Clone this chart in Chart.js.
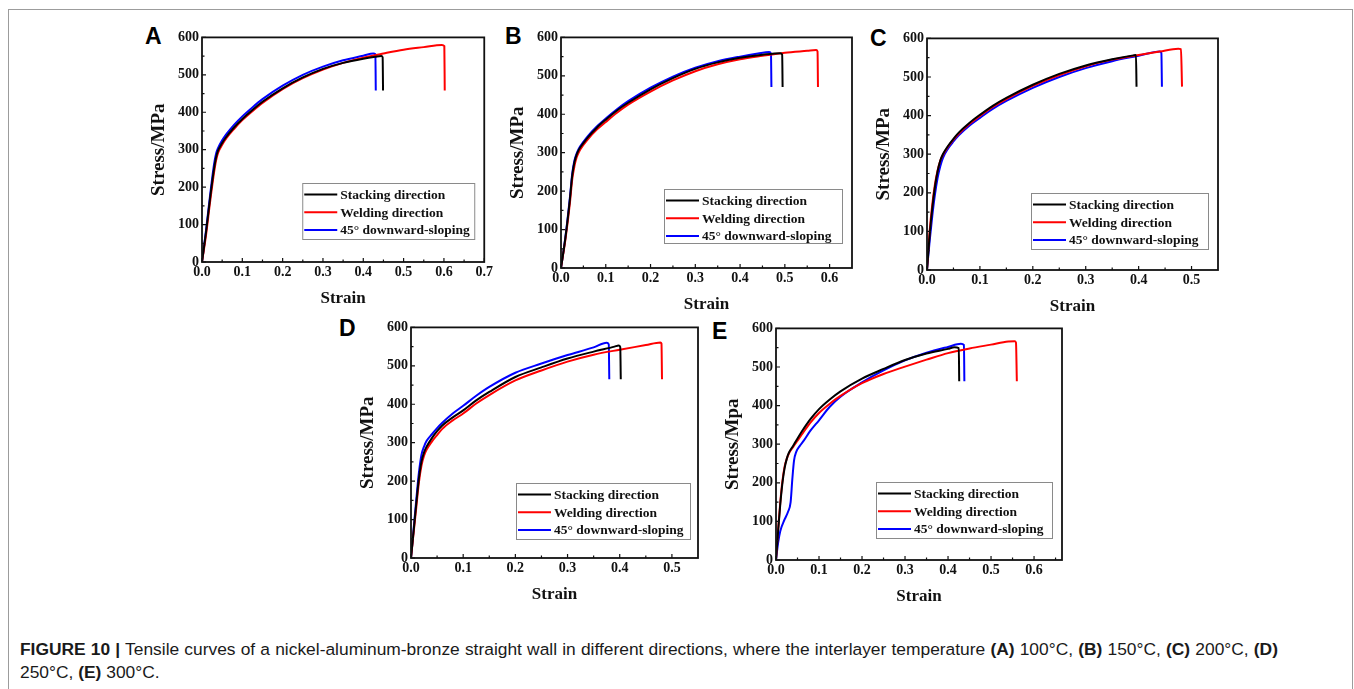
<!DOCTYPE html>
<html>
<head>
<meta charset="utf-8">
<title>Tensile curves</title>
<script src="https://cdn.jsdelivr.net/npm/chart.js@4.4.1/dist/chart.umd.min.js"></script>
<style>
    body {
        margin: 0;
        width: 1354px;
        height: 689px;
        overflow: hidden;
        position: relative;
        background: #fff;
        font-family: "Liberation Sans", Arial, sans-serif;
    }
    #frame {
        position: absolute;
        left: 8px;
        top: 9px;
        width: 1343px;
        height: 700px;
        border: 1px solid #9c9c9c;
        border-bottom: none;
    }
    .tag {
        position: absolute;
        font: bold 23px "Liberation Sans", Arial, sans-serif;
        line-height: 23px;
        color: #000;
    }
    canvas {
        position: absolute;
    }
    .caption {
        position: absolute;
        left: 20px;
        font-size: 17.4px;
        line-height: 23px;
        color: #1a1a1a;
        white-space: nowrap;
    }
    #cap1 {
        top: 638px;
        width: 1258px;
        text-align: justify;
        text-align-last: justify;
    }
    #cap2 {
        top: 661px;
    }
</style>
</head>
<body>
<div id="frame"></div>
<div class="tag" style="left:145px;top:25px">A</div>
<div class="tag" style="left:505px;top:25px">B</div>
<div class="tag" style="left:870px;top:27px">C</div>
<div class="tag" style="left:339px;top:317px">D</div>
<div class="tag" style="left:712px;top:320px">E</div>
<div class="caption" id="cap1"><b>FIGURE 10 |</b> Tensile curves of a nickel-aluminum-bronze straight wall in different directions, where the interlayer temperature <b>(A)</b> 100°C, <b>(B)</b> 150°C, <b>(C)</b> 200°C, <b>(D)</b></div>
<div class="caption" id="cap2">250°C, <b>(E)</b> 300°C.</div>

<script>
// legend names and colours, same order in every panel
var seriesNames = ["Stacking direction", "Welding direction", "45° downward-sloping"];
var seriesColors = ["#000000", "#ff0000", "#0000ff"];

var stressTicks = [0, 100, 200, 300, 400, 500, 600];
var strainTicksA = [0, 0.1, 0.2, 0.3, 0.4, 0.5, 0.6, 0.7];
var strainTicksB = [0, 0.1, 0.2, 0.3, 0.4, 0.5, 0.6];
var strainTicksC = [0, 0.1, 0.2, 0.3, 0.4, 0.5];
var strainTicksD = [0, 0.1, 0.2, 0.3, 0.4, 0.5];
var strainTicksE = [0, 0.1, 0.2, 0.3, 0.4, 0.5, 0.6];

// [strain, stress MPa] - 100°C
var A_stacking = [[0, 0], [0.01, 80], [0.02, 170], [0.03, 250], [0.035, 280], [0.04, 298], [0.05, 318], [0.06, 334], [0.08, 360], [0.1, 382], [0.125, 406], [0.15, 428], [0.2, 464], [0.25, 493], [0.3, 516], [0.35, 532], [0.4, 543], [0.43, 548], [0.445, 550], [0.448, 547], [0.449, 458]];
var A_welding = [[0, 0], [0.01, 72], [0.02, 160], [0.03, 240], [0.035, 272], [0.04, 292], [0.05, 313], [0.06, 330], [0.08, 356], [0.1, 379], [0.125, 403], [0.15, 425], [0.2, 462], [0.25, 491], [0.3, 514], [0.35, 532], [0.4, 546], [0.45, 557], [0.5, 567], [0.55, 574], [0.595, 580], [0.601, 577], [0.602, 458]];
var A_sloping = [[0, 0], [0.01, 85], [0.02, 178], [0.03, 262], [0.035, 290], [0.04, 305], [0.05, 325], [0.06, 341], [0.08, 367], [0.1, 389], [0.125, 413], [0.15, 435], [0.2, 471], [0.25, 500], [0.3, 522], [0.35, 539], [0.4, 551], [0.425, 557], [0.43, 555], [0.431, 458]];

// 150°C
var B_stacking = [[0, 0], [0.01, 80], [0.02, 180], [0.025, 240], [0.03, 275], [0.035, 295], [0.04, 308], [0.05, 325], [0.06, 340], [0.08, 365], [0.1, 386], [0.125, 410], [0.15, 430], [0.2, 465], [0.25, 494], [0.3, 518], [0.35, 535], [0.4, 547], [0.45, 555], [0.49, 559], [0.494, 555], [0.495, 471]];
var B_welding = [[0, 0], [0.01, 75], [0.02, 170], [0.025, 230], [0.03, 265], [0.035, 288], [0.04, 302], [0.05, 320], [0.06, 335], [0.08, 360], [0.1, 380], [0.125, 404], [0.15, 425], [0.2, 459], [0.25, 488], [0.3, 512], [0.35, 530], [0.4, 543], [0.45, 552], [0.5, 560], [0.55, 565], [0.57, 567], [0.573, 563], [0.574, 471]];
var B_sloping = [[0, 0], [0.01, 82], [0.02, 185], [0.025, 245], [0.03, 280], [0.035, 298], [0.04, 311], [0.05, 328], [0.06, 343], [0.08, 368], [0.1, 389], [0.125, 413], [0.15, 434], [0.2, 469], [0.25, 498], [0.3, 521], [0.35, 538], [0.4, 550], [0.44, 558], [0.465, 562], [0.469, 558], [0.47, 471]];

// 200°C
var C_stacking = [[0, 0], [0.005, 90], [0.01, 160], [0.015, 215], [0.02, 255], [0.025, 283], [0.03, 300], [0.04, 322], [0.05, 340], [0.06, 356], [0.08, 381], [0.1, 402], [0.125, 426], [0.15, 446], [0.2, 480], [0.25, 508], [0.3, 530], [0.35, 546], [0.39, 556], [0.395, 557], [0.396, 475]];
var C_welding = [[0, 0], [0.005, 100], [0.01, 170], [0.015, 222], [0.02, 258], [0.025, 283], [0.03, 298], [0.04, 320], [0.05, 338], [0.06, 353], [0.08, 378], [0.1, 399], [0.125, 423], [0.15, 443], [0.2, 477], [0.25, 505], [0.3, 528], [0.35, 545], [0.4, 557], [0.44, 566], [0.475, 573], [0.48, 572], [0.482, 475]];
var C_sloping = [[0, 0], [0.005, 75], [0.01, 140], [0.015, 195], [0.02, 238], [0.025, 268], [0.03, 290], [0.04, 315], [0.05, 333], [0.06, 349], [0.08, 374], [0.1, 394], [0.125, 418], [0.15, 438], [0.2, 472], [0.25, 500], [0.3, 523], [0.35, 541], [0.4, 555], [0.44, 566], [0.443, 562], [0.444, 475]];

// 250°C
var D_stacking = [[0, 0], [0.005, 70], [0.01, 140], [0.015, 205], [0.02, 250], [0.025, 275], [0.03, 290], [0.04, 312], [0.05, 330], [0.06, 345], [0.08, 366], [0.1, 384], [0.125, 410], [0.15, 432], [0.2, 471], [0.25, 496], [0.3, 519], [0.35, 537], [0.39, 550], [0.398, 553], [0.401, 549], [0.402, 465]];
var D_welding = [[0, 0], [0.005, 65], [0.01, 130], [0.015, 195], [0.02, 240], [0.025, 266], [0.03, 282], [0.04, 303], [0.05, 320], [0.06, 336], [0.08, 358], [0.1, 376], [0.125, 402], [0.15, 424], [0.2, 462], [0.25, 488], [0.3, 511], [0.35, 529], [0.4, 542], [0.45, 554], [0.478, 561], [0.48, 558], [0.481, 465]];
var D_sloping = [[0, 0], [0.005, 75], [0.01, 150], [0.015, 220], [0.02, 268], [0.025, 290], [0.03, 305], [0.04, 322], [0.05, 338], [0.06, 352], [0.08, 376], [0.1, 396], [0.125, 422], [0.15, 445], [0.2, 482], [0.25, 506], [0.3, 528], [0.35, 548], [0.375, 560], [0.379, 556], [0.38, 465]];

// 300°C
var E_stacking = [[0, 0], [0.005, 75], [0.01, 145], [0.015, 200], [0.02, 238], [0.025, 262], [0.03, 278], [0.04, 296], [0.05, 315], [0.06, 333], [0.08, 365], [0.1, 391], [0.125, 416], [0.15, 437], [0.2, 470], [0.25, 495], [0.3, 518], [0.35, 535], [0.4, 547], [0.415, 551], [0.425, 549], [0.426, 463]];
var E_welding = [[0, 0], [0.005, 80], [0.01, 150], [0.015, 205], [0.02, 242], [0.025, 262], [0.03, 276], [0.04, 293], [0.05, 309], [0.06, 325], [0.08, 356], [0.1, 381], [0.125, 405], [0.15, 425], [0.2, 458], [0.25, 482], [0.3, 501], [0.35, 519], [0.4, 536], [0.45, 548], [0.5, 558], [0.54, 566], [0.555, 567], [0.558, 563], [0.56, 463]];
var E_sloping = [[0, 0], [0.005, 45], [0.01, 75], [0.02, 105], [0.028, 125], [0.034, 150], [0.038, 210], [0.042, 258], [0.047, 280], [0.055, 295], [0.065, 310], [0.08, 335], [0.1, 362], [0.125, 397], [0.15, 423], [0.2, 460], [0.25, 491], [0.3, 517], [0.35, 537], [0.4, 552], [0.43, 560], [0.437, 557], [0.438, 463]];

var panels = [
    {box: [202, 36, 485, 262], xmax: 0.7, ticks: strainTicksA, yTitle: "Stress/MPa", curves: [A_stacking, A_welding, A_sloping],
        legend: {w: 172, h: 56, right: 10, bottom: 23}},
    {box: [561, 36, 852, 268], xmax: 0.65, ticks: strainTicksB, yTitle: "Stress/MPa", curves: [B_stacking, B_welding, B_sloping],
        legend: {w: 178, h: 54, right: 10, bottom: 25}},
    {box: [927, 37, 1218, 270], xmax: 0.55, ticks: strainTicksC, yTitle: "Stress/MPa", curves: [C_stacking, C_welding, C_sloping],
        legend: {w: 177, h: 56, right: 10, bottom: 21}},
    {box: [411, 326, 698, 558], xmax: 0.55, ticks: strainTicksD, yTitle: "Stress/MPa", curves: [D_stacking, D_welding, D_sloping],
        legend: {w: 174, h: 56, right: 8, bottom: 19}},
    {box: [776, 327, 1062, 560], xmax: 0.665, ticks: strainTicksE, yTitle: "Stress/Mpa", curves: [E_stacking, E_welding, E_sloping],
        legend: {w: 176, h: 56, right: 10, bottom: 22}}
];

var AXIS_W = 60;
var AXIS_H = 50;
var PAD = 10;
var serif = "'Liberation Serif', 'Times New Roman', serif";

// frame round the plot with inward major/minor ticks (Origin style)
var framePlugin = {
    id: "frame",
    afterDraw: function (chart) {
        var ctx = chart.ctx;
        var a = chart.chartArea;
        var xs = chart.scales.x, ys = chart.scales.y;
        ctx.save();
        ctx.strokeStyle = "#111";
        ctx.lineWidth = 1.8;
        ctx.strokeRect(a.left, a.top, a.right - a.left, a.bottom - a.top);
        ctx.lineWidth = 1.2;
        ctx.beginPath();
        xs.ticks.forEach(function (t) {
            var px = xs.getPixelForValue(t.value);
            ctx.moveTo(px, a.bottom);
            ctx.lineTo(px, a.bottom - 4);
            var half = xs.getPixelForValue(t.value + 0.05);
            if (half < a.right - 2) {
                ctx.moveTo(half, a.bottom);
                ctx.lineTo(half, a.bottom - 2.5);
            }
        });
        ys.ticks.forEach(function (t) {
            var py = ys.getPixelForValue(t.value);
            ctx.moveTo(a.left, py);
            ctx.lineTo(a.left + 4, py);
            if (t.value < 600) {
                var half = ys.getPixelForValue(t.value + 50);
                ctx.moveTo(a.left, half);
                ctx.lineTo(a.left + 2.5, half);
            }
        });
        ctx.stroke();
        ctx.restore();
    }
};

// legend drawn as a boxed key inside the lower right of the plot
var boxLegendPlugin = {
    id: "boxLegend",
    afterDraw: function (chart, args, opts) {
        var ctx = chart.ctx;
        var a = chart.chartArea;
        var x = a.right - opts.right - opts.w;
        var y = a.bottom - opts.bottom - opts.h;
        ctx.save();
        ctx.fillStyle = "#fff";
        ctx.fillRect(x, y, opts.w, opts.h);
        ctx.strokeStyle = "#8a8a8a";
        ctx.lineWidth = 1;
        ctx.strokeRect(x + 0.5, y + 0.5, opts.w, opts.h);
        ctx.font = "bold 13.5px " + serif;
        ctx.textBaseline = "middle";
        chart.data.datasets.forEach(function (ds, i) {
            var cy = y + 11.5 + i * 17.7;
            ctx.strokeStyle = ds.borderColor;
            ctx.lineWidth = 2;
            ctx.beginPath();
            ctx.moveTo(x + 2, cy);
            ctx.lineTo(x + 35, cy);
            ctx.stroke();
            ctx.fillStyle = "#111";
            ctx.fillText(ds.label, x + 38, cy + 1);
        });
        ctx.restore();
    }
};

function makePanel(p) {
    var L = p.box[0], T = p.box[1], R = p.box[2], B = p.box[3];
    var canvas = document.createElement("canvas");
    canvas.width = R - L + AXIS_W + PAD;
    canvas.height = B - T + AXIS_H + PAD;
    canvas.style.left = (L - AXIS_W) + "px";
    canvas.style.top = (T - PAD) + "px";
    document.body.appendChild(canvas);

    var datasets = p.curves.map(function (c, i) {
        return {
            label: seriesNames[i],
            data: c.map(function (pt) {
                return {x: pt[0], y: pt[1]};
            }),
            borderColor: seriesColors[i],
            borderWidth: 2,
            pointRadius: 0,
            cubicInterpolationMode: "monotone",
            fill: false
        };
    });

    new Chart(canvas, {
        type: "line",
        data: {datasets: datasets},
        options: {
            responsive: false,
            animation: false,
            layout: {padding: {top: PAD, right: PAD, left: 0, bottom: 0}},
            plugins: {
                legend: {display: false},
                tooltip: {enabled: false},
                boxLegend: p.legend
            },
            scales: {
                x: {
                    type: "linear",
                    min: 0,
                    max: p.xmax,
                    afterBuildTicks: function (s) {
                        s.ticks = p.ticks.map(function (v) {
                            return {value: v};
                        });
                    },
                    afterFit: function (s) {
                        s.height = AXIS_H;
                    },
                    grid: {display: false, drawTicks: false},
                    border: {display: false},
                    ticks: {
                        autoSkip: false,
                        maxRotation: 0,
                        padding: 2,
                        color: "#111",
                        font: {family: serif, size: 14, weight: "bold"},
                        callback: function (v) {
                            return v.toFixed(1);
                        }
                    },
                    title: {
                        display: true,
                        text: "Strain",
                        color: "#111",
                        padding: {top: 0, bottom: 3},
                        font: {family: serif, size: 17, weight: "bold"}
                    }
                },
                y: {
                    min: 0,
                    max: 600,
                    afterBuildTicks: function (s) {
                        s.ticks = stressTicks.map(function (v) {
                            return {value: v};
                        });
                    },
                    afterFit: function (s) {
                        s.width = AXIS_W;
                    },
                    grid: {display: false, drawTicks: false},
                    border: {display: false},
                    ticks: {
                        autoSkip: false,
                        padding: 3,
                        color: "#111",
                        font: {family: serif, size: 14, weight: "bold"}
                    },
                    title: {
                        display: true,
                        text: p.yTitle,
                        color: "#111",
                        padding: {top: 6, bottom: 0},
                        font: {family: serif, size: 19, weight: "bold"}
                    }
                }
            }
        },
        plugins: [framePlugin, boxLegendPlugin]
    });
}

panels.forEach(makePanel);
</script>
</body>
</html>
